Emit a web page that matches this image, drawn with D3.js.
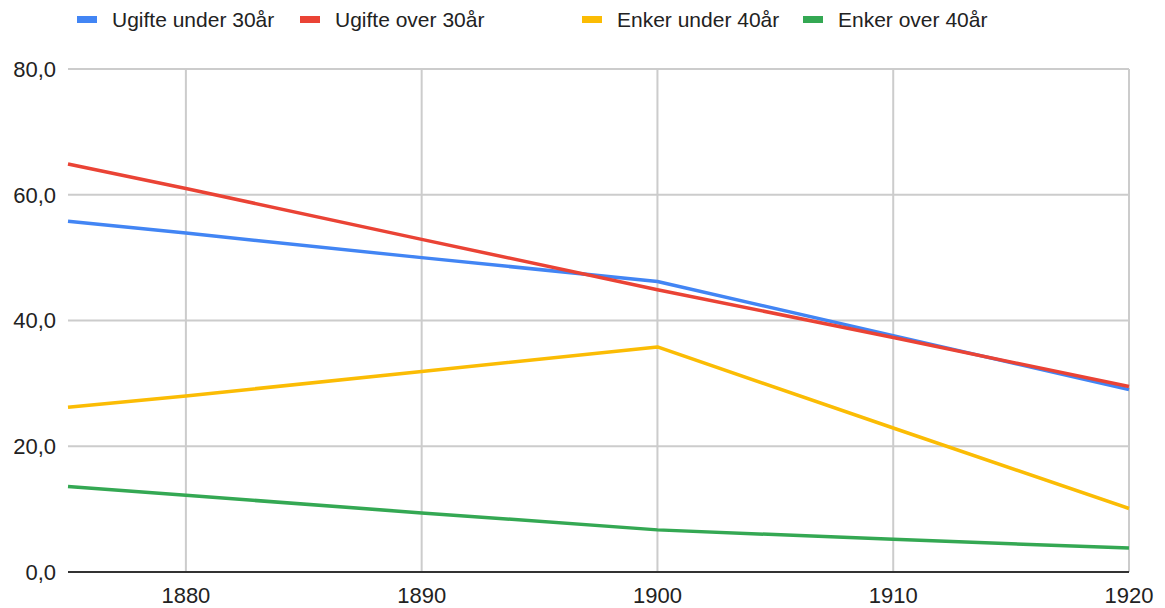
<!DOCTYPE html>
<html>
<head>
<meta charset="utf-8">
<script src="https://cdn.jsdelivr.net/npm/d3@7"></script>
<style>
  body { margin: 0; background: #fff; }
  svg { display: block; font-family: "Liberation Sans", Arial, sans-serif; }
</style>
</head>
<body>
<div class="chart-container"></div>
<script>
const years = [1875, 1880, 1890, 1900, 1910, 1920];
const ugifteUnder30 = [55.8, 53.9, 50.0, 46.2, 37.6, 29.0];
const ugifteOver30 = [64.9, 61.0, 52.9, 44.9, 37.3, 29.5];
const enkerUnder40 = [26.2, 28.0, 31.9, 35.8, 22.9, 10.1];
const enkerOver40 = [13.6, 12.2, 9.4, 6.7, 5.2, 3.8];
const seriesNames = ["Ugifte under 30år", "Ugifte over 30år", "Enker under 40år", "Enker over 40år"];
const xTicks = [1880, 1890, 1900, 1910, 1920];
const yTicks = [0, 20, 40, 60, 80];

const colors = ["#4285f4", "#ea4335", "#fbbc04", "#34a853"];
const allSeries = [ugifteUnder30, ugifteOver30, enkerUnder40, enkerOver40];

const width = 1165, height = 608;
const margin = { top: 69, right: 36, bottom: 36, left: 68 };
const innerW = width - margin.left - margin.right;
const innerH = height - margin.top - margin.bottom;

var svg = d3.select(".chart-container")
  .append("svg")
  .attr("width", width)
  .attr("height", height);

var x = d3.scaleLinear().domain([1875, 1920]).range([0, innerW]);
var y = d3.scaleLinear().domain([0, 80]).range([innerH, 0]);

var g = svg.append("g")
  .attr("transform", "translate(" + margin.left + "," + margin.top + ")");

// horizontal grid
g.append("g")
  .selectAll("line")
  .data(yTicks.filter(d => d !== 0))
  .join("line")
  .attr("x1", 0).attr("x2", innerW)
  .attr("y1", d => y(d)).attr("y2", d => y(d))
  .attr("stroke", "#cccccc").attr("stroke-width", 2);

// vertical grid
g.append("g")
  .selectAll("line")
  .data(xTicks)
  .join("line")
  .attr("x1", d => x(d)).attr("x2", d => x(d))
  .attr("y1", 0).attr("y2", innerH)
  .attr("stroke", "#cccccc").attr("stroke-width", 2);

// y axis labels
var fmt = d => d3.format(".1f")(d).replace(".", ",");
g.append("g")
  .selectAll("text")
  .data(yTicks)
  .join("text")
  .attr("x", -12)
  .attr("y", d => y(d))
  .attr("dy", "0.36em")
  .attr("text-anchor", "end")
  .attr("font-size", 22)
  .attr("fill", "#222")
  .text(fmt);

// x axis labels
g.append("g")
  .selectAll("text")
  .data(xTicks)
  .join("text")
  .attr("x", d => x(d))
  .attr("y", innerH + 31)
  .attr("text-anchor", "middle")
  .attr("font-size", 22)
  .attr("fill", "#222")
  .text(d => d);

// baseline
g.append("line")
  .attr("x1", 0).attr("x2", innerW)
  .attr("y1", y(0)).attr("y2", y(0))
  .attr("stroke", "#333").attr("stroke-width", 2);

// lines
var line = d3.line()
  .x((d, i) => x(years[i]))
  .y(d => y(d));

allSeries.forEach((s, i) => {
  g.append("path")
    .datum(s)
    .attr("d", line)
    .attr("fill", "none")
    .attr("stroke", colors[i])
    .attr("stroke-width", 3.5)
    .attr("stroke-linejoin", "round");
});

// legend
const legendX = [77, 300, 582, 803];
var legend = svg.append("g");
seriesNames.forEach((name, i) => {
  var lg = legend.append("g").attr("transform", "translate(" + legendX[i] + ",19)");
  lg.append("rect")
    .attr("x", 0).attr("y", -3)
    .attr("width", 20).attr("height", 7)
    .attr("fill", colors[i]);
  lg.append("text")
    .attr("x", 35).attr("y", 0)
    .attr("dy", "0.36em")
    .attr("font-size", 21)
    .attr("fill", "#222")
    .text(name);
});
</script>
</body>
</html>
